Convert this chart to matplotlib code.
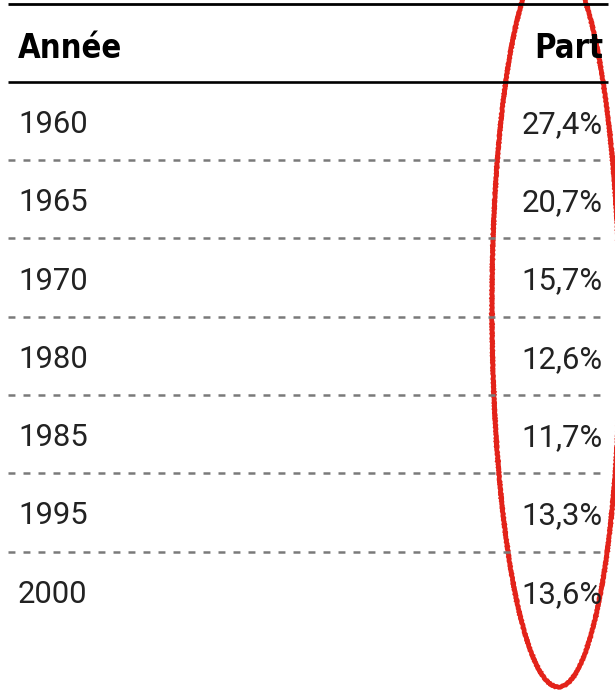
import matplotlib

matplotlib.use("Agg")
import matplotlib.pyplot as plt
from matplotlib.patches import Ellipse

# table content
header_left = "Année"
header_right = "Part"
years = ["1960", "1965", "1970", "1980", "1985", "1995", "2000"]
shares = ["27,4%", "20,7%", "15,7%", "12,6%", "11,7%", "13,3%", "13,6%"]

W, H = 615, 693
plt.rcParams["lines.scale_dashes"] = False

fig = plt.figure(figsize=(W / 100, H / 100), dpi=100)
ax = fig.add_axes([0, 0, 1, 1])
ax.set_xlim(0, W)
ax.set_ylim(H, 0)
ax.axis("off")

x_left, x_right = 8, 608
text_left, text_right = 18, 603
row_h = 78.3
first_base = 133

# header
ax.plot([x_left, x_right], [4, 4], color="black", lw=2.0, solid_capstyle="butt")
header_font = dict(family="DejaVu Sans", stretch="condensed", weight="heavy", size=23.5,
                   color="black", va="baseline")
ax.text(text_left, 58, header_left, ha="left", **header_font)
ax.text(text_right, 58, header_right, ha="right", **header_font)
ax.plot([x_left, x_right], [82, 82], color="black", lw=1.9, solid_capstyle="butt")

body_font = dict(family=["Roboto", "DejaVu Sans"], size=22.3, color="#222222", va="baseline")
for i, (year, share) in enumerate(zip(years, shares)):
    base = first_base + i * row_h
    ax.text(text_left, base, year, ha="left", **body_font)
    ax.text(text_right, base, share, ha="right", **body_font)
    if i < len(years) - 1:
        y_line = base + 27
        ax.plot([x_left, x_right], [y_line, y_line], color="#7a7a7a", lw=1.8,
                linestyle=(0, (5.0, 5.8)))

# hand-drawn red circle around the share column
ring = Ellipse((556, 320), 128, 734, angle=-0.4, fill=False, edgecolor="#e3231a", lw=3.4)
ring.set_sketch_params(scale=0.4, length=4, randomness=2)
ax.add_patch(ring)

fig.savefig("out.png", dpi=100)
plt.close(fig)
